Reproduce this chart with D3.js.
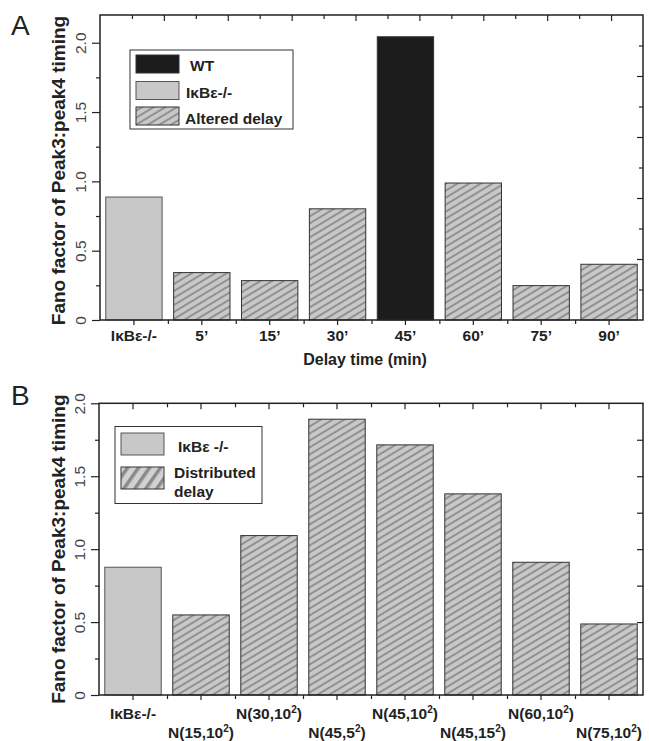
<!DOCTYPE html>
<html>
<head>
<meta charset="utf-8">
<script src="https://cdn.jsdelivr.net/npm/d3@7"></script>
<style>
  body { margin: 0; background: #fff; }
  svg { display: block; font-family: "Liberation Sans", Arial, sans-serif; }
</style>
</head>
<body>
<div id="graphicContainer"></div>
<script>

// panel A: fixed delays
var catsA = ["IκBε-/-", "5’", "15’", "30’", "45’", "60’", "75’", "90’"]
var valsA = [0.887, 0.342, 0.284, 0.802, 2.043, 0.988, 0.248, 0.402]
var kindA = ["ko", "delay", "delay", "delay", "wt", "delay", "delay", "delay"]

// panel B: distributed delays (^ marks a superscript)
var catsB = ["IκBε-/-", "N(15,10^2)", "N(30,10^2)", "N(45,5^2)", "N(45,10^2)", "N(45,15^2)", "N(60,10^2)", "N(75,10^2)"]
var valsB = [0.876, 0.549, 1.093, 1.891, 1.715, 1.379, 0.910, 0.487]
var kindB = ["ko", "delay", "delay", "delay", "delay", "delay", "delay", "delay"]

var yTicks = [0, 0.5, 1, 1.5, 2]
var yTickLabels = ["0", "0.5", "1.0", "1.5", "2.0"]

var legendA = [{key: "WT", kind: "wt"}, {key: "IκBε-/-", kind: "ko"}, {key: "Altered delay", kind: "delay"}]
var legendB = [{key: "IκBε -/-", kind: "ko"}, {key: "Distributed\ndelay", kind: "wide"}]

var yTitle = "Fano factor of Peak3:peak4 timing"

var svg = d3.select("#graphicContainer").append("svg")
  .attr("width", 649)
  .attr("height", 741)

svg.append("rect").attr("width", 649).attr("height", 741).attr("fill", "#fff")

var defs = svg.append("defs")

var hatch = defs.append("pattern")
  .attr("id", "hatch")
  .attr("patternUnits", "userSpaceOnUse")
  .attr("width", 10)
  .attr("height", 6)
  .attr("patternTransform", "rotate(-31)")
hatch.append("rect").attr("width", 10).attr("height", 6).attr("fill", "#c8c8c8")
hatch.append("line")
  .attr("x1", 0).attr("x2", 10).attr("y1", 3).attr("y2", 3)
  .attr("stroke", "#2a2a2a").attr("stroke-width", 0.7)

var wide = defs.append("pattern")
  .attr("id", "wide")
  .attr("patternUnits", "userSpaceOnUse")
  .attr("width", 10)
  .attr("height", 9)
  .attr("patternTransform", "rotate(-55)")
wide.append("rect").attr("width", 10).attr("height", 9).attr("fill", "#d2d2d2")
wide.append("rect").attr("width", 10).attr("y", 2).attr("height", 3.5).attr("fill", "#8a8a8a")

var fillFor = k => k == "wt" ? "#1c1c1c" : k == "ko" ? "#c8c8c8" : k == "wide" ? "url(#wide)" : "url(#hatch)"
var strokeFor = k => k == "ko" ? "#555" : "#333"

function labelText(sel, s) {
  var parts = s.split("^")
  sel.append("tspan").text(parts[0])
  if (parts.length > 1) {
    sel.append("tspan").attr("dy", -6).attr("font-size", "10px").text(parts[1][0])
    sel.append("tspan").attr("dy", 6).text(parts[1].slice(1))
  }
}

function panel(o) {

  var g = svg.append("g")

  var x = d3.scaleBand()
    .domain(o.cats)
    .range([o.left, o.right])
    .paddingInner(0.17)
    .paddingOuter(0.085)

  var y = d3.scaleLinear()
    .domain([0, o.ymax])
    .range([o.bottom, o.top])

  // band boundaries for the minor x ticks
  var xb = d3.scaleLinear().domain([0, o.cats.length]).range([o.left, o.right])

  g.selectAll("rect.bar")
    .data(o.cats.map((c, i) => ({c, v: o.vals[i], k: o.kinds[i]})))
    .enter()
    .append("rect")
    .attr("class", "bar")
    .attr("x", d => x(d.c))
    .attr("y", d => y(d.v))
    .attr("width", x.bandwidth())
    .attr("height", d => y(0) - y(d.v))
    .attr("fill", d => fillFor(d.k))
    .attr("stroke", d => strokeFor(d.k))
    .attr("stroke-width", 1)

  // left axis, outward ticks, rotated labels
  g.append("g")
    .attr("transform", `translate(${o.left},0)`)
    .call(d3.axisLeft(y).tickValues(d3.range(0.25, o.ymax, 0.5)).tickSize(4).tickFormat(""))
  var ya = g.append("g")
    .attr("transform", `translate(${o.left},0)`)
    .call(d3.axisLeft(y).tickValues(yTicks).tickSize(8).tickFormat((d, i) => yTickLabels[i]))
  ya.selectAll("text")
    .attr("x", 0).attr("y", -14).attr("dy", 0)
    .attr("text-anchor", "middle")
    .attr("transform", "rotate(-90)")
    .attr("font-family", "'Liberation Sans', Arial, sans-serif")
    .attr("font-size", "15.5px")
    .attr("fill", "#444")

  // right axis, inward
  o.rightTicks.forEach((vals, j) => {
    g.append("g")
      .attr("transform", `translate(${o.right},0)`)
      .call(d3.axisRight(y).tickValues(vals).tickSize(j == 0 ? -6 : -4).tickFormat(""))
  })

  // bottom axis, outward
  g.append("g")
    .attr("transform", `translate(0,${o.bottom})`)
    .call(d3.axisBottom(x).tickSize(5).tickFormat(""))
  g.append("g")
    .attr("transform", `translate(0,${o.bottom})`)
    .call(d3.axisBottom(xb).tickValues(d3.range(1, o.cats.length)).tickSize(4).tickFormat(""))

  // top axis, inward
  o.topTicks(g, x, xb)

  g.selectAll(".domain").remove()
  g.selectAll(".tick line").attr("stroke", "#222").attr("stroke-width", 1.2)

  g.append("rect")
    .attr("x", o.left).attr("y", o.top)
    .attr("width", o.right - o.left).attr("height", o.bottom - o.top)
    .attr("fill", "none").attr("stroke", "#222").attr("stroke-width", 1.5)

  // category labels
  g.selectAll("text.cat")
    .data(o.cats)
    .enter()
    .append("text")
    .attr("class", "cat")
    .attr("x", d => x(d) + x.bandwidth() / 2)
    .attr("y", (d, i) => o.labelY[i % o.labelY.length])
    .attr("text-anchor", "middle")
    .attr("font-size", "15.5px")
    .attr("font-weight", "bold")
    .attr("fill", "#222")
    .each(function (d) { labelText(d3.select(this), d) })

  if (o.xTitle) {
    g.append("text")
      .attr("x", 365).attr("y", 365)
      .attr("text-anchor", "middle")
      .attr("font-size", "16px")
      .attr("font-weight", "bold")
      .attr("fill", "#222")
      .text(o.xTitle)
  }

  g.append("text")
    .attr("transform", `translate(65,${(o.top + o.bottom) / 2 + o.titleShift}) rotate(-90)`)
    .attr("text-anchor", "middle")
    .attr("font-size", "19px")
    .attr("font-weight", "bold")
    .attr("fill", "#222")
    .text(yTitle)

  g.append("text")
    .attr("x", 11).attr("y", o.letterY)
    .attr("font-size", "28px")
    .attr("fill", "#222")
    .text(o.letter)

  // legend
  var lg = g.append("g")
  lg.append("rect")
    .attr("x", o.legend.x).attr("y", o.legend.y)
    .attr("width", o.legend.w).attr("height", o.legend.h)
    .attr("fill", "#fff").attr("stroke", "#333").attr("stroke-width", 1)

  o.legend.items.forEach((item, i) => {
    var ey = o.legend.rows[i]
    lg.append("rect")
      .attr("x", o.legend.x + 6).attr("y", ey)
      .attr("width", 43).attr("height", o.legend.sw)
      .attr("fill", fillFor(item.kind))
      .attr("stroke", strokeFor(item.kind))
    item.key.split("\n").forEach((line, j) => {
      lg.append("text")
        .attr("x", o.legend.tx[i])
        .attr("y", o.legend.base[i] + j * 19)
        .attr("font-size", "15.5px")
        .attr("font-weight", "bold")
        .attr("fill", "#222")
        .text(line)
    })
  })
}

panel({
  cats: catsA, vals: valsA, kinds: kindA,
  left: 100, right: 643, top: 15, bottom: 320, ymax: 2.2,
  rightTicks: [d3.range(2, 10, 2).map(k => k * 0.22), d3.range(1, 10, 2).map(k => k * 0.22)],
  topTicks: (g, x, xb) => {
    var t = d3.scaleLinear().domain([0, 17]).range([100, 643])
    g.append("g").attr("transform", "translate(0,15)")
      .call(d3.axisTop(t).tickValues(d3.range(2, 17, 2)).tickSize(-6).tickFormat(""))
    g.append("g").attr("transform", "translate(0,15)")
      .call(d3.axisTop(t).tickValues(d3.range(1, 17, 2)).tickSize(-4).tickFormat(""))
  },
  labelY: [341],
  xTitle: "Delay time (min)",
  titleShift: 3,
  letter: "A", letterY: 35,
  legend: {
    x: 130, y: 50, w: 163, h: 79, sw: 18,
    items: legendA,
    rows: [55, 81.5, 107],
    tx: [190, 186, 185],
    base: [71, 98, 123.5]
  }
})

panel({
  cats: catsB, vals: valsB, kinds: kindB,
  left: 99, right: 643, top: 403.3, bottom: 695, ymax: 2.0,
  rightTicks: [d3.range(0.25, 2, 0.25)],
  topTicks: (g, x, xb) => {
    g.append("g").attr("transform", "translate(0,403.3)")
      .call(d3.axisTop(x).tickSize(-6).tickFormat(""))
    g.append("g").attr("transform", "translate(0,403.3)")
      .call(d3.axisTop(xb).tickValues(d3.range(1, 8)).tickSize(-4).tickFormat(""))
  },
  labelY: [719, 737.5],
  titleShift: 0,
  letter: "B", letterY: 405,
  legend: {
    x: 115, y: 426.5, w: 147, h: 77, sw: 22,
    items: legendB,
    rows: [433, 467],
    tx: [178, 174],
    base: [452, 478]
  }
})

</script>
</body>
</html>
